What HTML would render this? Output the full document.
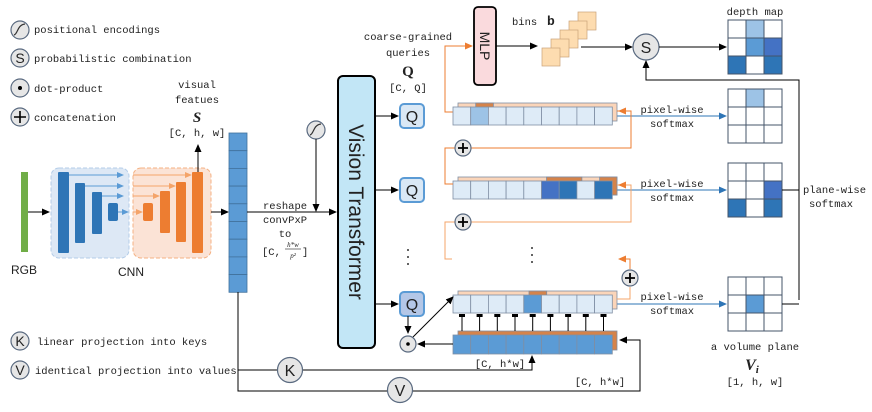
<!DOCTYPE html>
<html><head><meta charset="utf-8"><style>
html,body{margin:0;padding:0;background:#fff}
svg{display:block}
text{fill:#222}
</style></head><body>
<svg width="872" height="412" viewBox="0 0 872 412" xmlns="http://www.w3.org/2000/svg" style="font-family:'Liberation Mono',monospace;font-size:10.5px">
<defs>
<marker id="ab" markerWidth="8" markerHeight="8" refX="7" refY="4" orient="auto" markerUnits="userSpaceOnUse"><path d="M0,0.5 L8,4 L0,7.5z" fill="#000"/></marker>
<marker id="ao" markerWidth="8" markerHeight="8" refX="7" refY="4" orient="auto" markerUnits="userSpaceOnUse"><path d="M0,0.5 L8,4 L0,7.5z" fill="#ed7d31"/></marker>
<marker id="au" markerWidth="8" markerHeight="8" refX="7" refY="4" orient="auto" markerUnits="userSpaceOnUse"><path d="M0,0.5 L8,4 L0,7.5z" fill="#2e75b6"/></marker>
<marker id="al" markerWidth="7" markerHeight="7" refX="6" refY="3.5" orient="auto" markerUnits="userSpaceOnUse"><path d="M0,0.5 L7,3.5 L0,6.5z" fill="#5b9bd5"/></marker>
<marker id="alo" markerWidth="7" markerHeight="7" refX="6" refY="3.5" orient="auto" markerUnits="userSpaceOnUse"><path d="M0,0.5 L7,3.5 L0,6.5z" fill="#f4a46a"/></marker>
</defs>

<!-- legend -->
<g stroke="#5a6a80" stroke-width="1.2" fill="#e6e6e6">
<circle cx="20" cy="30" r="9"/><circle cx="20" cy="58" r="9"/><circle cx="20" cy="88" r="9"/><circle cx="20" cy="117" r="9"/>
<circle cx="20" cy="341" r="9"/><circle cx="20" cy="370" r="9"/>
</g>
<path d="M14,35 C18,34 17,25 25,24" stroke="#333" fill="none" stroke-width="1.2"/>
<text x="20" y="63" text-anchor="middle" style="font-family:'Liberation Sans',sans-serif;font-size:14px">S</text>
<circle cx="20" cy="88" r="2" fill="#000"/>
<path d="M14,117 H26 M20,111 V123" stroke="#000" stroke-width="1.6"/>
<text x="20" y="346" text-anchor="middle" style="font-family:'Liberation Sans',sans-serif;font-size:14px">K</text>
<text x="20" y="375" text-anchor="middle" style="font-family:'Liberation Sans',sans-serif;font-size:14px">V</text>
<text x="34" y="33">positional encodings</text>
<text x="34" y="62">probabilistic combination</text>
<text x="34" y="92">dot-product</text>
<text x="34" y="121">concatenation</text>
<text x="37" y="345">linear projection into keys</text>
<text x="35" y="374">identical projection into values</text>

<!-- RGB -->
<rect x="21" y="172" width="7" height="80" fill="#70ad47"/>
<text x="24" y="274" text-anchor="middle" style="font-family:'Liberation Sans',sans-serif;font-size:12px">RGB</text>
<line x1="28" y1="212" x2="49" y2="212" stroke="#000" marker-end="url(#ab)"/>
<!-- CNN -->
<rect x="51" y="168" width="78" height="90" rx="8" fill="#dde8f5" stroke="#b4cde8" stroke-dasharray="4,2"/>
<rect x="133" y="168" width="78" height="90" rx="8" fill="#fbe3d6" stroke="#f4b183" stroke-dasharray="4,2"/>
<g fill="#2e75b6"><rect x="58" y="172" width="11" height="81" rx="1"/><rect x="75" y="183" width="10" height="60" rx="1"/><rect x="92" y="192" width="10" height="42" rx="1"/><rect x="108" y="203" width="10" height="18" rx="2"/></g>
<g fill="#ed7d31"><rect x="143" y="203" width="10" height="18" rx="2"/><rect x="160" y="191" width="10" height="42" rx="1"/><rect x="176" y="182" width="10" height="60" rx="1"/><rect x="192" y="172" width="11" height="81" rx="1"/></g>
<g stroke="#5b9bd5" fill="none"><path d="M69,175 H123" marker-end="url(#al)"/><path d="M85,186 H123" marker-end="url(#al)"/><path d="M102,196 H123" marker-end="url(#al)"/><path d="M118,212 H128" marker-end="url(#al)"/></g>
<g stroke="#f4a46a" fill="none"><path d="M133,175 H191" marker-end="url(#alo)"/><path d="M133,186 H175" marker-end="url(#alo)"/><path d="M133,196 H159" marker-end="url(#alo)"/><path d="M133,212 H142" marker-end="url(#alo)"/></g>
<text x="131" y="276" text-anchor="middle" style="font-family:'Liberation Sans',sans-serif;font-size:12px">CNN</text>
<line x1="198" y1="172" x2="198" y2="145" stroke="#000" marker-end="url(#ab)"/>
<line x1="211" y1="212" x2="228" y2="212" stroke="#000" marker-end="url(#ab)"/>
<text x="197" y="88" text-anchor="middle">visual</text>
<text x="197" y="103" text-anchor="middle">featues</text>
<text x="197" y="122" text-anchor="middle" style="font-family:'Liberation Serif',serif;font-weight:bold;font-style:italic;font-size:15px">S</text>
<text x="197" y="136" text-anchor="middle">[C, h, w]</text>
<!-- column -->
<g fill="#5b9bd5" stroke="#41719c" stroke-width="0.8">
<rect x="229" y="133" width="18" height="17.7"/><rect x="229" y="150.7" width="18" height="17.7"/><rect x="229" y="168.4" width="18" height="17.7"/><rect x="229" y="186.1" width="18" height="17.7"/><rect x="229" y="203.8" width="18" height="17.7"/><rect x="229" y="221.5" width="18" height="17.7"/><rect x="229" y="239.2" width="18" height="17.7"/><rect x="229" y="256.9" width="18" height="17.7"/><rect x="229" y="274.6" width="18" height="17.7"/>
</g>
<line x1="247" y1="212" x2="336" y2="212" stroke="#000" marker-end="url(#ab)"/>
<circle cx="316" cy="130" r="9" fill="#e6e6e6" stroke="#5a6a80" stroke-width="1.2"/>
<path d="M310,135 C314,134 313,125 321,124" stroke="#333" fill="none" stroke-width="1.2"/>
<line x1="316" y1="139" x2="316" y2="211" stroke="#000" marker-end="url(#ab)"/>
<text x="285" y="209" text-anchor="middle">reshape</text>
<text x="285" y="223" text-anchor="middle">convPxP</text>
<text x="285" y="237" text-anchor="middle">to</text>
<text x="262" y="255">[C,</text><text x="302" y="255">]</text>
<text x="293" y="247" text-anchor="middle" style="font-family:'Liberation Serif',serif;font-style:italic;font-size:7px">h*w</text>
<line x1="285" y1="249" x2="301" y2="249" stroke="#222" stroke-width="0.6"/>
<text x="293" y="258" text-anchor="middle" style="font-family:'Liberation Serif',serif;font-style:italic;font-size:7px">p²</text>
<!-- K/V lines -->
<path d="M238,292 V391 H640 V340 H620" stroke="#000" fill="none" marker-end="url(#ab)"/>
<path d="M238,370 H532 V356" stroke="#000" fill="none" marker-end="url(#ab)"/>
<circle cx="290" cy="370" r="12.5" fill="#e6e6e6" stroke="#5a6a80" stroke-width="1.2"/>
<text x="290" y="376" text-anchor="middle" style="font-family:'Liberation Sans',sans-serif;font-size:16px">K</text>
<circle cx="400" cy="390" r="12.5" fill="#e6e6e6" stroke="#5a6a80" stroke-width="1.2"/>
<text x="400" y="396" text-anchor="middle" style="font-family:'Liberation Sans',sans-serif;font-size:16px">V</text>
<text x="500" y="367" text-anchor="middle">[C, h*w]</text>
<text x="600" y="385" text-anchor="middle">[C, h*w]</text>

<!-- ViT -->
<rect x="338" y="76" width="37" height="272" rx="5" fill="#c2e6f6" stroke="#000" stroke-width="2"/>
<text transform="translate(349,212) rotate(90)" text-anchor="middle" style="font-family:'Liberation Sans',sans-serif;font-size:21px" fill="#111">Vision Transformer</text>
<g stroke="#000"><line x1="375" y1="116" x2="398" y2="116" marker-end="url(#ab)"/><line x1="375" y1="190" x2="398" y2="190" marker-end="url(#ab)"/><line x1="375" y1="304" x2="398" y2="304" marker-end="url(#ab)"/></g>
<g stroke="#5b9bd5" stroke-width="2"><rect x="400" y="104" width="24" height="24" rx="4" fill="#dae8f5"/><rect x="400" y="178" width="24" height="24" rx="4" fill="#dae8f5"/><rect x="400" y="292" width="24" height="24" rx="4" fill="#b4c7e7"/></g>
<text x="412" y="122" text-anchor="middle" style="font-family:'Liberation Sans',sans-serif;font-size:16px">Q</text>
<text x="412" y="196" text-anchor="middle" style="font-family:'Liberation Sans',sans-serif;font-size:16px">Q</text>
<text x="412" y="310" text-anchor="middle" style="font-family:'Liberation Sans',sans-serif;font-size:16px">Q</text>
<text x="408" y="40" text-anchor="middle">coarse-grained</text>
<text x="408" y="56" text-anchor="middle">queries</text>
<text x="408" y="76" text-anchor="middle" style="font-family:'Liberation Serif',serif;font-weight:bold;font-size:15px">Q</text>
<text x="408" y="91" text-anchor="middle">[C, Q]</text>
<g fill="#333"><circle cx="408" cy="250" r="1"/><circle cx="408" cy="257" r="1"/><circle cx="408" cy="264" r="1"/><circle cx="532" cy="248" r="1"/><circle cx="532" cy="255" r="1"/><circle cx="532" cy="262" r="1"/></g>

<!-- MLP -->
<rect x="474" y="7" width="22" height="78" rx="4" fill="#fadadd" stroke="#000" stroke-width="1.8"/>
<text transform="translate(480,46) rotate(90)" text-anchor="middle" style="font-family:'Liberation Sans',sans-serif;font-size:14px">MLP</text>
<path d="M453,112 H445 V46 H472" stroke="#ed7d31" fill="none" marker-end="url(#ao)"/>
<line x1="496" y1="46" x2="537" y2="46" stroke="#000" marker-end="url(#ab)"/>
<text x="512" y="25">bins</text><text x="547" y="25" style="font-weight:bold;font-size:13px">b</text>
<g fill="#fddcb0" stroke="#c9a27a" stroke-width="0.7">
<rect x="578" y="12" width="18" height="18"/><rect x="569" y="21" width="18" height="18"/><rect x="560" y="30" width="18" height="18"/><rect x="551" y="39" width="18" height="18"/><rect x="542" y="48" width="18" height="18"/>
</g>
<line x1="581" y1="47" x2="632" y2="47" stroke="#000" marker-end="url(#ab)"/>
<circle cx="646" cy="47" r="13" fill="#e6e6e6" stroke="#5a6a80" stroke-width="1.2"/>
<text x="646" y="53" text-anchor="middle" style="font-family:'Liberation Sans',sans-serif;font-size:16px">S</text>
<line x1="659" y1="47" x2="726" y2="47" stroke="#000" marker-end="url(#ab)"/>
<path d="M799,300 V80 H646 V61" stroke="#000" fill="none" marker-end="url(#ab)"/>
<text x="755" y="15" text-anchor="middle">depth map</text>

<!-- grids -->
<g stroke="#44546a" stroke-width="1">
<rect x="728" y="20" width="18" height="18" fill="#fff"/><rect x="746" y="20" width="18" height="18" fill="#9dc3e6"/><rect x="764" y="20" width="18" height="18" fill="#fff"/>
<rect x="728" y="38" width="18" height="18" fill="#fff"/><rect x="746" y="38" width="18" height="18" fill="#5b9bd5"/><rect x="764" y="38" width="18" height="18" fill="#4472c4"/>
<rect x="728" y="56" width="18" height="18" fill="#2e75b6"/><rect x="746" y="56" width="18" height="18" fill="#fff"/><rect x="764" y="56" width="18" height="18" fill="#2e75b6"/>

<rect x="728" y="89" width="18" height="18" fill="#fff"/><rect x="746" y="89" width="18" height="18" fill="#9dc3e6"/><rect x="764" y="89" width="18" height="18" fill="#fff"/>
<rect x="728" y="107" width="18" height="18" fill="#fff"/><rect x="746" y="107" width="18" height="18" fill="#fff"/><rect x="764" y="107" width="18" height="18" fill="#fff"/>
<rect x="728" y="125" width="18" height="18" fill="#fff"/><rect x="746" y="125" width="18" height="18" fill="#fff"/><rect x="764" y="125" width="18" height="18" fill="#fff"/>

<rect x="728" y="163" width="18" height="18" fill="#fff"/><rect x="746" y="163" width="18" height="18" fill="#fff"/><rect x="764" y="163" width="18" height="18" fill="#fff"/>
<rect x="728" y="181" width="18" height="18" fill="#fff"/><rect x="746" y="181" width="18" height="18" fill="#fff"/><rect x="764" y="181" width="18" height="18" fill="#4472c4"/>
<rect x="728" y="199" width="18" height="18" fill="#2e75b6"/><rect x="746" y="199" width="18" height="18" fill="#fff"/><rect x="764" y="199" width="18" height="18" fill="#2e75b6"/>

<rect x="728" y="277" width="18" height="18" fill="#fff"/><rect x="746" y="277" width="18" height="18" fill="#fff"/><rect x="764" y="277" width="18" height="18" fill="#fff"/>
<rect x="728" y="295" width="18" height="18" fill="#fff"/><rect x="746" y="295" width="18" height="18" fill="#5b9bd5"/><rect x="764" y="295" width="18" height="18" fill="#fff"/>
<rect x="728" y="313" width="18" height="18" fill="#fff"/><rect x="746" y="313" width="18" height="18" fill="#fff"/><rect x="764" y="313" width="18" height="18" fill="#fff"/>
</g>
<path d="M782,190 H799 M782,304 H799" stroke="#000"/>
<text x="803" y="193">plane-wise</text>
<text x="809" y="207">softmax</text>
<text x="755" y="350" text-anchor="middle">a volume plane</text>
<text x="752" y="370" text-anchor="middle" style="font-family:'Liberation Serif',serif;font-weight:bold;font-style:italic;font-size:16px">V<tspan style="font-size:11px" dy="3">i</tspan></text>
<text x="755" y="385" text-anchor="middle">[1, h, w]</text>

<!-- pixel-wise arrows -->
<g stroke="#2e75b6"><line x1="612" y1="116" x2="726" y2="116" marker-end="url(#au)"/><line x1="612" y1="190" x2="726" y2="190" marker-end="url(#au)"/><line x1="612" y1="304" x2="726" y2="304" marker-end="url(#au)"/></g>
<g text-anchor="middle">
<text x="672" y="113">pixel-wise</text><text x="672" y="127">softmax</text>
<text x="672" y="187">pixel-wise</text><text x="672" y="201">softmax</text>
<text x="672" y="300">pixel-wise</text><text x="672" y="314">softmax</text>
</g>

<!-- token rows -->
<g stroke="#7f8ea3" stroke-width="0.8">
<rect x="458" y="103" width="159" height="18" fill="#fbd5b9"/>
<rect x="475.7" y="103" width="17.7" height="5" fill="#d5834a"/>
<rect x="453" y="107" width="17.7" height="18" fill="#deebf7"/><rect x="470.7" y="107" width="17.7" height="18" fill="#9dc3e6"/><rect x="488.4" y="107" width="17.7" height="18" fill="#deebf7"/><rect x="506.1" y="107" width="17.7" height="18" fill="#deebf7"/><rect x="523.8" y="107" width="17.7" height="18" fill="#deebf7"/><rect x="541.5" y="107" width="17.7" height="18" fill="#deebf7"/><rect x="559.2" y="107" width="17.7" height="18" fill="#deebf7"/><rect x="576.9" y="107" width="17.7" height="18" fill="#deebf7"/><rect x="594.6" y="107" width="17.7" height="18" fill="#deebf7"/>
<rect x="458" y="177" width="159" height="18" fill="#fbd5b9"/>
<rect x="546.5" y="177" width="35.4" height="5" fill="#d5834a"/><rect x="599.6" y="177" width="17.4" height="18" fill="#d5834a"/>
<rect x="453" y="181" width="17.7" height="18" fill="#deebf7"/><rect x="470.7" y="181" width="17.7" height="18" fill="#deebf7"/><rect x="488.4" y="181" width="17.7" height="18" fill="#deebf7"/><rect x="506.1" y="181" width="17.7" height="18" fill="#deebf7"/><rect x="523.8" y="181" width="17.7" height="18" fill="#deebf7"/><rect x="541.5" y="181" width="17.7" height="18" fill="#4472c4"/><rect x="559.2" y="181" width="17.7" height="18" fill="#2e75b6"/><rect x="576.9" y="181" width="17.7" height="18" fill="#deebf7"/><rect x="594.6" y="181" width="17.7" height="18" fill="#2e75b6"/>
<rect x="458" y="291" width="159" height="18" fill="#fbd5b9"/>
<rect x="529" y="291" width="17.7" height="5" fill="#d5834a"/>
<rect x="453" y="295" width="17.7" height="18" fill="#deebf7"/><rect x="470.7" y="295" width="17.7" height="18" fill="#deebf7"/><rect x="488.4" y="295" width="17.7" height="18" fill="#deebf7"/><rect x="506.1" y="295" width="17.7" height="18" fill="#deebf7"/><rect x="523.8" y="295" width="17.7" height="18" fill="#5b9bd5"/><rect x="541.5" y="295" width="17.7" height="18" fill="#deebf7"/><rect x="559.2" y="295" width="17.7" height="18" fill="#deebf7"/><rect x="576.9" y="295" width="17.7" height="18" fill="#deebf7"/><rect x="594.6" y="295" width="17.7" height="18" fill="#deebf7"/>
<rect x="458" y="331" width="159" height="19" fill="#d5834a"/>
<rect x="453" y="335" width="17.7" height="19" fill="#5b9bd5"/><rect x="470.7" y="335" width="17.7" height="19" fill="#5b9bd5"/><rect x="488.4" y="335" width="17.7" height="19" fill="#5b9bd5"/><rect x="506.1" y="335" width="17.7" height="19" fill="#5b9bd5"/><rect x="523.8" y="335" width="17.7" height="19" fill="#5b9bd5"/><rect x="541.5" y="335" width="17.7" height="19" fill="#5b9bd5"/><rect x="559.2" y="335" width="17.7" height="19" fill="#5b9bd5"/><rect x="576.9" y="335" width="17.7" height="19" fill="#5b9bd5"/><rect x="594.6" y="335" width="17.7" height="19" fill="#5b9bd5"/>
</g>
<g stroke="#000" stroke-width="1">
<path d="M462,315 V331 M479.6,315 V331 M497.3,315 V331 M515,315 V331 M532.7,315 V331 M550.4,315 V331 M568.1,315 V331 M585.8,315 V331 M603.5,315 V331"/>
</g>
<g fill="#000"><rect x="459" y="314" width="6" height="3"/><rect x="476.6" y="314" width="6" height="3"/><rect x="494.3" y="314" width="6" height="3"/><rect x="512" y="314" width="6" height="3"/><rect x="529.7" y="314" width="6" height="3"/><rect x="547.4" y="314" width="6" height="3"/><rect x="565.1" y="314" width="6" height="3"/><rect x="582.8" y="314" width="6" height="3"/><rect x="600.5" y="314" width="6" height="3"/></g>

<!-- dot product -->
<line x1="408" y1="316" x2="408" y2="333" stroke="#000" marker-end="url(#ab)"/>
<line x1="453" y1="344" x2="418" y2="344" stroke="#000" marker-end="url(#ab)"/>
<line x1="413" y1="337" x2="453" y2="297" stroke="#000" marker-end="url(#ab)"/>
<circle cx="408" cy="344" r="8" fill="#e6e6e6" stroke="#5a6a80" stroke-width="1.2"/>
<circle cx="408" cy="344" r="1.8" fill="#000"/>

<!-- orange concat loops -->
<path d="M617,111 H631 V148 H470" stroke="#ed7d31" fill="none"/>
<path d="M630,111 H619" stroke="#ed7d31" marker-end="url(#ao)"/>
<path d="M455,148 H445 V184 H453" stroke="#ed7d31" fill="none"/>
<path d="M617,185 H631 V222 H470" stroke="#f4a46a" fill="none"/>
<path d="M630,185 H619" stroke="#f4a46a" marker-end="url(#ao)"/>
<path d="M455,222 H445 V259 H452" stroke="#f4a46a" fill="none"/>
<path d="M617,299 H630 V287" stroke="#f4a46a" fill="none"/>
<path d="M630,269 V259 H619" stroke="#ed7d31" fill="none" marker-end="url(#ao)"/>
<g fill="#e6e6e6" stroke="#5a6a80" stroke-width="1.2"><circle cx="463" cy="148" r="8"/><circle cx="463" cy="222" r="8"/><circle cx="630" cy="278" r="8"/></g>
<path d="M458,148 H468 M463,143 V153 M458,222 H468 M463,217 V227 M625,278 H635 M630,273 V283" stroke="#000" stroke-width="1.8"/>
</svg>
</body></html>
